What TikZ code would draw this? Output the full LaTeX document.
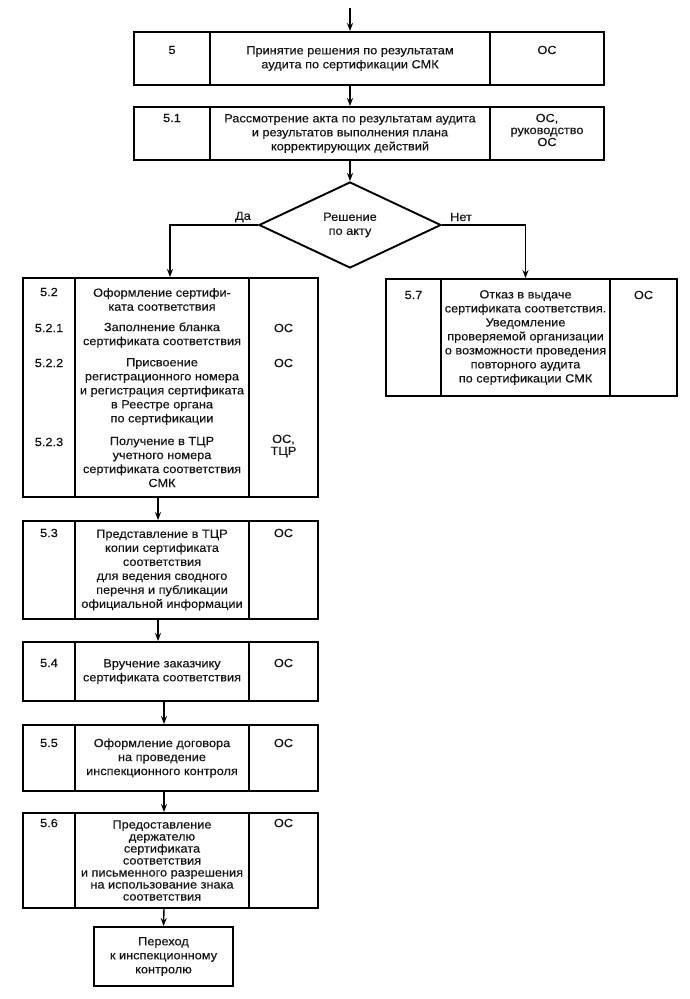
\documentclass[tikz,border=0pt]{standalone}
\usepackage{fontspec}
\setmainfont{Liberation Sans}[FakeStretch=1.08,FakeBold=0.3]
\usetikzlibrary{arrows.meta,shapes.geometric}
\tikzset{
  cellst/.style={draw=black, line width=1.9pt, inner sep=0pt, align=center,
    text=black!92, font=\fontsize{11.8}{14}\selectfont},
  txt/.style={inner sep=0pt, align=center, text=black!92, font=\fontsize{11.8}{14}\selectfont},
  tight/.style={font=\fontsize{11.8}{12}\selectfont},
  arr/.style={line width=1.4pt, -{Stealth[length=8pt,width=6pt]}},
  decision/.style={draw=black, line width=1.9pt, diamond, inner sep=0pt, aspect=2.1,
    minimum width=182pt, minimum height=86pt, align=center, text=black!92,
    font=\fontsize{11.8}{14}\selectfont},
}
\newcommand\cellbox[6]{\node[cellst, minimum width={(#4-#2)*1pt}, minimum height={(#5-#3)*1pt}] (#1) at ({(#2+#4)/2},{(#3+#5)/2}) {#6};}
\begin{document}
\begin{tikzpicture}[x=1pt,y=-1pt]
\useasboundingbox[fill=white] (0,0) rectangle (690,999);

% Box 5
\cellbox{n5}{134}{32}{210}{85}{}
\cellbox{m5}{210}{32}{490}{85}{Принятие решения по результатам\\аудита по сертификации СМК}
\cellbox{r5}{490}{32}{604}{85}{}
\node[txt] (t5) at (172,50) {5};
\node[txt] (o5) at (547,50) {ОС};

% Box 5.1
\cellbox{n51}{134}{107}{210}{160}{}
\cellbox{m51}{210}{107}{490}{160}{Рассмотрение акта по результатам аудита\\и результатов выполнения плана\\корректирующих действий}
\cellbox{r51}{490}{107}{604}{160}{}
\node[txt] (t51) at (172,118) {5.1};
\node[txt,tight] (o51) at (547,130) {ОС,\\руководство\\ОС};

% Decision
\node[decision] (d) at (350,225) {Решение\\по акту};
\node[txt] (yes) at (243,217) {Да};
\node[txt] (no) at (461,217) {Нет};

% Box 5.2
\cellbox{n52}{23}{278}{75}{497}{}
\cellbox{m52}{75}{278}{249}{497}{}
\cellbox{r52}{249}{278}{318}{497}{}
\node[txt] (t52) at (49,292) {5.2};
\node[txt] (t521) at (49,328) {5.2.1};
\node[txt] (t522) at (49,363) {5.2.2};
\node[txt] (t523) at (49,442) {5.2.3};
\node[txt] (x52) at (162,299.5) {Оформление сертифи-\\ката соответствия};
\node[txt] (x521) at (162,335) {Заполнение бланка\\сертификата соответствия};
\node[txt] (x522) at (162,391.5) {Присвоение\\регистрационного номера\\и регистрация сертификата\\в Реестре органа\\по сертификации};
\node[txt] (x523) at (162,462) {Получение в ТЦР\\учетного номера\\сертификата соответствия\\СМК};
\node[txt] (o521) at (283.5,328) {ОС};
\node[txt] (o522) at (283.5,363) {ОС};
\node[txt,tight] (o523) at (283.5,446) {ОС,\\ТЦР};

% Box 5.7
\cellbox{n57}{386}{279}{441}{396}{}
\cellbox{m57}{441}{279}{610}{396}{Отказ в выдаче\\сертификата соответствия.\\Уведомление\\проверяемой организации\\о возможности проведения\\повторного аудита\\по сертификации СМК}
\cellbox{r57}{610}{279}{677}{396}{}
\node[txt] (t57) at (413.5,295) {5.7};
\node[txt] (o57) at (643.5,295) {ОС};

% Box 5.3
\cellbox{n53}{23}{521}{75}{619}{}
\cellbox{m53}{75}{521}{249}{619}{Представление в ТЦР\\копии сертификата\\соответствия\\для ведения сводного\\перечня и публикации\\официальной информации}
\cellbox{r53}{249}{521}{318}{619}{}
\node[txt] (t53) at (49,533) {5.3};
\node[txt] (o53) at (283.5,533) {ОС};

% Box 5.4
\cellbox{n54}{23}{642}{75}{701}{}
\cellbox{m54}{75}{642}{249}{701}{Вручение заказчику\\сертификата соответствия}
\cellbox{r54}{249}{642}{318}{701}{}
\node[txt] (t54) at (49,663) {5.4};
\node[txt] (o54) at (283.5,663) {ОС};

% Box 5.5
\cellbox{n55}{23}{725}{75}{791}{}
\cellbox{m55}{75}{725}{249}{791}{Оформление договора\\на проведение\\инспекционного контроля}
\cellbox{r55}{249}{725}{318}{791}{}
\node[txt] (t55) at (49,743) {5.5};
\node[txt] (o55) at (283.5,743) {ОС};

% Box 5.6
\cellbox{n56}{23}{813}{75}{908}{}
\node[cellst, tight, minimum width=174pt, minimum height=95pt] (m56) at (162,860.5) {Предоставление\\держателю\\сертификата\\соответствия\\и письменного разрешения\\на использование знака\\соответствия};
\cellbox{r56}{249}{813}{318}{908}{}
\node[txt] (t56) at (49,823) {5.6};
\node[txt] (o56) at (283.5,823) {ОС};

% Final
\cellbox{fin}{94}{927}{233}{986}{Переход\\к инспекционному\\контролю}

% Connectors
\coordinate (start) at (350,8);
\draw[arr] (start) -- (m5.north);
\draw[arr] (m5.south) -- (m51.north);
\draw[arr] (m51.south) -- (d.north);
\draw[arr] (d.west) -| ([xshift=8pt]m52.north);
\draw[arr] (d.east) -| (m57.north);
\draw[arr] ([xshift=-4pt]m52.south) -- ([xshift=-4pt]m53.north);
\draw[arr] ([xshift=-4pt]m53.south) -- ([xshift=-4pt]m54.north);
\draw[arr] ([xshift=2pt]m54.south) -- ([xshift=2pt]m55.north);
\draw[arr] ([xshift=2pt]m55.south) -- ([xshift=2pt]m56.north);
\draw[arr] ([xshift=2pt]m56.south) -- (fin.north);
\end{tikzpicture}
\end{document}
